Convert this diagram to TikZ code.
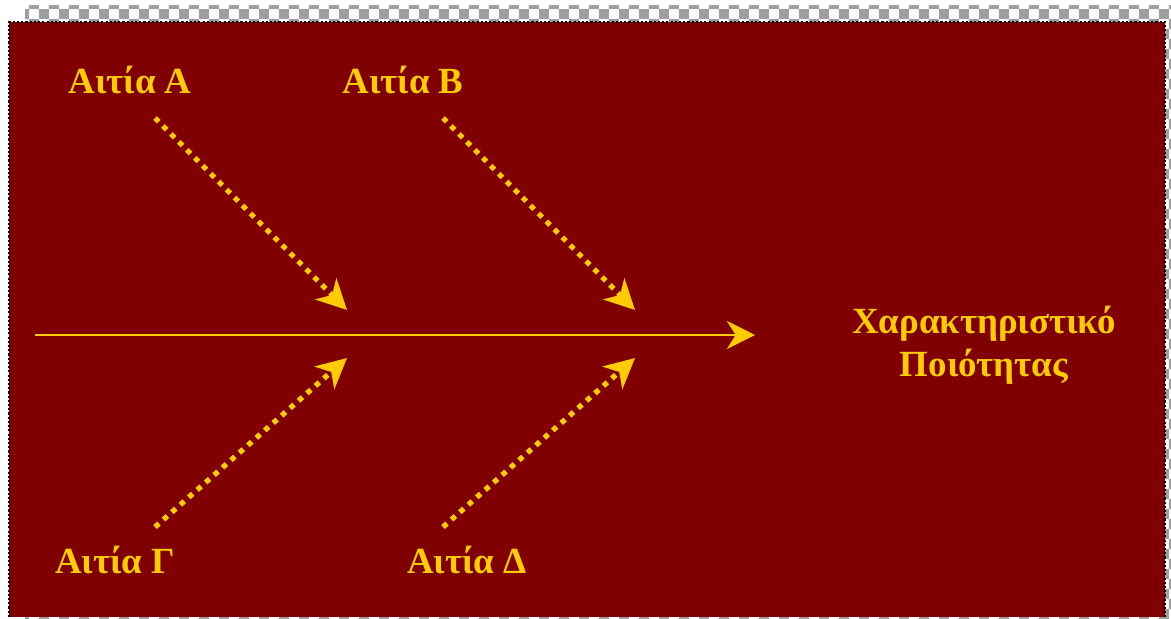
\documentclass[tikz,border=0pt]{standalone}
\usepackage{fontspec}
\setmainfont{Liberation Serif}
\usetikzlibrary{arrows.meta,patterns}
\definecolor{maroon}{HTML}{800000}
\definecolor{gold}{HTML}{FFCC00}

\begin{document}
\begin{tikzpicture}[x=0.02cm,y=-0.02cm]
    \useasboundingbox (0,0) rectangle (1171,619);
    % shadow and background
    \fill[pattern=checkerboard,pattern color=gray!75] (25,5) rectangle (1171,619);
    \fill[maroon] (9,22) rectangle (1165,617);
    \draw[black,line width=0.6pt,dash pattern=on 1.2pt off 1.2pt] (9,617)--(9,22)--(1165,22)--(1165,617);
    % spine
    \coordinate (tail) at (35,335);
    \coordinate (head) at (755,335);
    \draw[gold,line width=1.2pt,-{Stealth[length=16pt,width=16pt,inset=5pt]}] (tail)--(head);
    \node[text=gold,font=\fontsize{21}{24.5}\selectfont\bfseries,align=center] (effect) at (984,345) {Χαρακτηριστικό\\Ποιότητας};
    % causes
    \foreach \n/\t/\lx/\ly/\sx/\sy/\ex/\ey in {a/Αιτία Α/130/80/155/118/347/310, b/Αιτία Β/403/80/443/118/635/310, c/Αιτία Γ/115/560/155/527/347/358, d/Αιτία Δ/467/560/443/527/635/358}{
      \node[text=gold,font=\fontsize{21}{25}\selectfont\bfseries] (\n) at (\lx,\ly) {\t};
      \coordinate (\n0) at (\sx,\sy);
      \coordinate (\n1) at (\ex,\ey);
      \draw[gold,line width=3pt,dash pattern=on 3pt off 3.4pt,-{Stealth[length=17pt,width=17pt,inset=5pt]}] (\n0)--(\n1);
    }
  \end{tikzpicture}
\end{document}
